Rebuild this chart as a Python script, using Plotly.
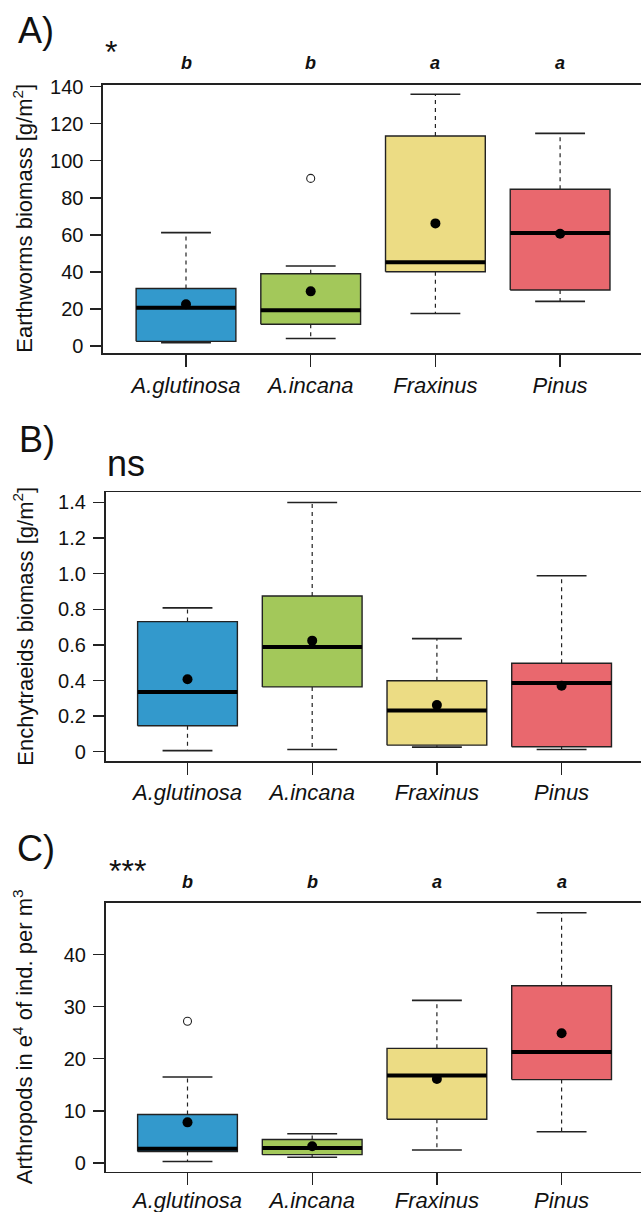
import plotly.graph_objects as go

categories = ["A.glutinosa", "A.incana", "Fraxinus", "Pinus"]
colors = ["#3399cc", "#a3c85a", "#ecdc84", "#e9686e"]

# Panel A: Earthworms biomass [g/m2]
ew_lower = [1.8, 4.0, 17.5, 24.1]
ew_q1 = [2.5, 11.7, 40.1, 30.2]
ew_median = [20.7, 19.3, 45.2, 61.0]
ew_q3 = [31.0, 39.0, 113.4, 84.6]
ew_upper = [61.2, 43.2, 135.9, 114.8]
ew_mean = [22.5, 29.5, 66.2, 60.6]
ew_outliers = [[], [90.5], [], []]
ew_letters = ["b", "b", "a", "a"]
ew_ticks = [0, 20, 40, 60, 80, 100, 120, 140]
ew_ticktext = ["0", "20", "40", "60", "80", "100", "120", "140"]

# Panel B: Enchytraeids biomass [g/m2]
en_lower = [0.006, 0.013, 0.026, 0.013]
en_q1 = [0.146, 0.364, 0.037, 0.028]
en_median = [0.335, 0.588, 0.232, 0.386]
en_q3 = [0.731, 0.875, 0.399, 0.497]
en_upper = [0.808, 1.40, 0.635, 0.988]
en_mean = [0.407, 0.624, 0.262, 0.371]
en_outliers = [[], [], [], []]
en_ticks = [0, 0.2, 0.4, 0.6, 0.8, 1.0, 1.2, 1.4]
en_ticktext = ["0", "0.2", "0.4", "0.6", "0.8", "1.0", "1.2", "1.4"]

# Panel C: Arthropods in e4 of ind. per m3
ar_lower = [0.3, 1.1, 2.5, 6.0]
ar_q1 = [2.2, 1.6, 8.4, 16.0]
ar_median = [2.75, 2.9, 16.8, 21.3]
ar_q3 = [9.3, 4.5, 22.0, 34.0]
ar_upper = [16.5, 5.6, 31.2, 48.0]
ar_mean = [7.8, 3.2, 16.1, 24.9]
ar_outliers = [[27.2], [], [], []]
ar_letters = ["b", "b", "a", "a"]
ar_ticks = [0, 10, 20, 30, 40]
ar_ticktext = ["0", "10", "20", "30", "40"]

W, H = 641, 1212
FONT = "Liberation Sans, Arial, sans-serif"
LINE = "#222222"

fig = go.Figure()

panels = [
    dict(lower=ew_lower, q1=ew_q1, med=ew_median, q3=ew_q3, upper=ew_upper, mean=ew_mean,
         out=ew_outliers, ticks=ew_ticks, ticktext=ew_ticktext, yrange=[-3.8, 141.2],
         top=84.5, bottom=353, left=103, xstand=0,
         title="Earthworms biomass [g/m<sup>2</sup>]"),
    dict(lower=en_lower, q1=en_q1, med=en_median, q3=en_q3, upper=en_upper, mean=en_mean,
         out=en_outliers, ticks=en_ticks, ticktext=en_ticktext, yrange=[-0.052, 1.457],
         top=492.3, bottom=761, left=105.5, xstand=-1,
         title="Enchytraeids biomass [g/m<sup>2</sup>]"),
    dict(lower=ar_lower, q1=ar_q1, med=ar_median, q3=ar_q3, upper=ar_upper, mean=ar_mean,
         out=ar_outliers, ticks=ar_ticks, ticktext=ar_ticktext, yrange=[-1.67, 49.94],
         top=902.7, bottom=1171.7, left=105.5, xstand=-4,
         title="Arthropods in e<sup>4</sup> of ind. per m<sup>3</sup>"),
]

BW = 0.4   # half box width
CW = 0.2   # half cap width
UNIT = 124.7

annotations = []
for p_i, p in enumerate(panels):
    xa = "x" if p_i == 0 else f"x{p_i+1}"
    ya = "y" if p_i == 0 else f"y{p_i+1}"
    for i, cat in enumerate(categories):
        c = i + 1
        # whiskers
        fig.add_trace(go.Scatter(x=[c, c, None, c, c],
                                 y=[p["q3"][i], p["upper"][i], None, p["q1"][i], p["lower"][i]],
                                 mode="lines", line=dict(color=LINE, width=1.2, dash="4px,4px"),
                                 xaxis=xa, yaxis=ya, showlegend=False, hoverinfo="skip"))
        # caps
        fig.add_trace(go.Scatter(x=[c - CW, c + CW, None, c - CW, c + CW],
                                 y=[p["upper"][i], p["upper"][i], None, p["lower"][i], p["lower"][i]],
                                 mode="lines", line=dict(color=LINE, width=1.6),
                                 xaxis=xa, yaxis=ya, showlegend=False, hoverinfo="skip"))
        # box
        fig.add_trace(go.Scatter(x=[c - BW, c + BW, c + BW, c - BW, c - BW],
                                 y=[p["q1"][i], p["q1"][i], p["q3"][i], p["q3"][i], p["q1"][i]],
                                 mode="lines", fill="toself", fillcolor=colors[i],
                                 line=dict(color=LINE, width=1.4),
                                 xaxis=xa, yaxis=ya, showlegend=False, hoverinfo="skip"))
        # median
        fig.add_trace(go.Scatter(x=[c - BW, c + BW], y=[p["med"][i], p["med"][i]],
                                 mode="lines", line=dict(color="black", width=4),
                                 xaxis=xa, yaxis=ya, showlegend=False, hoverinfo="skip"))
        # mean
        fig.add_trace(go.Scatter(x=[c], y=[p["mean"][i]], mode="markers",
                                 marker=dict(color="black", size=10),
                                 xaxis=xa, yaxis=ya, showlegend=False, hoverinfo="skip"))
        # outliers
        if p["out"][i]:
            fig.add_trace(go.Scatter(x=[c] * len(p["out"][i]), y=p["out"][i], mode="markers",
                                     marker=dict(color="white", size=8, symbol="circle",
                                                 line=dict(color=LINE, width=1.1)),
                                     xaxis=xa, yaxis=ya, showlegend=False, hoverinfo="skip"))

    left = p["left"]
    x0 = 1 - (186 + (1.5 if p_i else 0) - left) / UNIT
    x1 = x0 + (W - left) / UNIT
    xkey = "xaxis" if p_i == 0 else f"xaxis{p_i+1}"
    ykey = "yaxis" if p_i == 0 else f"yaxis{p_i+1}"
    fig.update_layout(**{
        xkey: dict(domain=[left / W, 1], range=[x0, x1], anchor=ya,
                   tickvals=[1, 2, 3, 4], ticktext=[f"<i>{c}</i>" for c in categories],
                   tickfont=dict(family=FONT, size=22, color="#111"),
                   ticks="outside", ticklen=12, tickwidth=1.4, tickcolor=LINE,
                   ticklabelstandoff=p["xstand"],
                   showline=True, mirror=True, linecolor=LINE, linewidth=1.6,
                   showgrid=False, zeroline=False, automargin=False, fixedrange=True),
        ykey: dict(domain=[1 - p["bottom"] / H, 1 - p["top"] / H], range=p["yrange"], anchor=xa,
                   tickvals=p["ticks"], ticktext=p["ticktext"],
                   tickfont=dict(family=FONT, size=20, color="#111"),
                   ticks="outside", ticklen=11, tickwidth=1.4, tickcolor=LINE,
                   ticklabelstandoff=3,
                   showline=True, mirror=False, linecolor=LINE, linewidth=1.6,
                   showgrid=False, zeroline=False, automargin=False, fixedrange=True),
    })
    # y-axis title
    annotations.append(dict(text=p["title"], xref="paper", yref="paper",
                            x=23 / W, y=1 - (p["top"] + p["bottom"]) / 2 / H,
                            textangle=-90, showarrow=False, xanchor="center", yanchor="middle",
                            font=dict(family=FONT, size=22, color="#111")))

# Panel labels and significance
for txt, px, py, size in [("A)", 36, 30, 36), ("B)", 37, 439, 36), ("C)", 36, 848, 36),
                          ("ns", 126, 464, 36)]:
    annotations.append(dict(text=txt, xref="paper", yref="paper", x=px / W, y=1 - py / H,
                            showarrow=False, xanchor="center", yanchor="middle",
                            font=dict(family=FONT, size=size, color="#111")))
for txt, px, py in [("*", 111, 52), ("***", 127, 871)]:
    annotations.append(dict(text=txt, xref="paper", yref="paper", x=px / W, y=1 - py / H,
                            showarrow=False, xanchor="center", yanchor="middle",
                            font=dict(family=FONT, size=32, color="#111")))

# group letters
for letters, xa, py in [(ew_letters, "x", 63), (ar_letters, "x3", 882)]:
    for i, l in enumerate(letters):
        annotations.append(dict(text=f"<b><i>{l}</i></b>", xref=xa, yref="paper", x=i + 1, y=1 - py / H,
                                showarrow=False, xanchor="center", yanchor="middle",
                                font=dict(family=FONT, size=18, color="#111")))

fig.update_layout(width=W, height=H, margin=dict(l=0, r=0, t=0, b=0),
                  paper_bgcolor="white", plot_bgcolor="white",
                  annotations=annotations, showlegend=False)

fig.write_html("out.html", config={"displayModeBar": False, "staticPlot": True},
               post_script="document.body.style.margin='0';document.body.style.overflow='hidden';")
